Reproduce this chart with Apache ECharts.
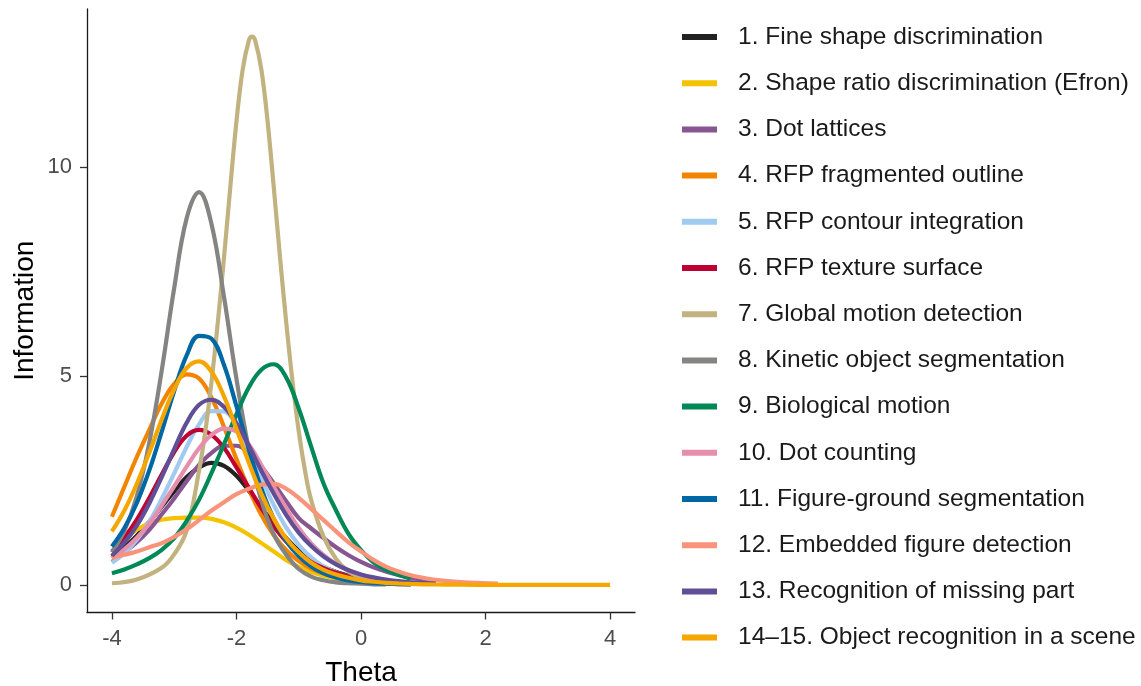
<!DOCTYPE html>
<html>
<head>
<meta charset="utf-8">
<title>Information curves</title>
<script src="https://cdn.jsdelivr.net/npm/echarts@6/dist/echarts.min.js"></script>
<style>
  html, body { margin: 0; padding: 0; background: #fff; }
  #main { width: 1141px; height: 686px; }
</style>
</head>
<body>
<div id="main"></div>
<script>
// theta grid (shared by most curves)
var theta = [-4.0, -3.8, -3.6, -3.4, -3.2, -3.0, -2.8, -2.6, -2.4, -2.2, -2.0, -1.8, -1.6, -1.4, -1.2, -1.0,
  -0.8, -0.6, -0.4, -0.2, 0.0, 0.2, 0.4, 0.6, 0.8, 1.0, 1.2, 1.6, 2.2, 2.8, 3.4, 4.0];
// denser grid for the narrow global motion peak
var thetaGM = [-4.0, -3.6, -3.2, -3.0, -2.8, -2.6, -2.5, -2.4, -2.3, -2.2, -2.1, -2.0, -1.9, -1.8, -1.75, -1.7,
  -1.6, -1.5, -1.4, -1.3, -1.2, -1.1, -1.0, -0.9, -0.8, -0.6, -0.4, -0.2, 0.0, 0.2, 0.4, 0.6, 0.8];

var names = [
  '1. Fine shape discrimination',
  '2. Shape ratio discrimination (Efron)',
  '3. Dot lattices',
  '4. RFP fragmented outline',
  '5. RFP contour integration',
  '6. RFP texture surface',
  '7. Global motion detection',
  '8. Kinetic object segmentation',
  '9. Biological motion',
  '10. Dot counting',
  '11. Figure-ground segmentation',
  '12. Embedded figure detection',
  '13. Recognition of missing part',
  '14\u201315. Object recognition in a scene'
];

var colors = ['#222222', '#F3C300', '#875692', '#F38400', '#A1CAF1', '#BE0032', '#C2B280',
  '#848482', '#008856', '#E68FAC', '#0067A5', '#F99379', '#604E97', '#F6A600'];

// information values (null = curve stops)
var fineShape = [0.68, 0.90, 1.18, 1.51, 1.87, 2.24, 2.58, 2.81, 2.92, 2.85, 2.61, 2.25, 1.85, 1.47, 1.12, 0.82,
  0.60, 0.43, 0.31, 0.22, 0.15, 0.11, 0.075, 0.05, 0.035, null, null, null, null, null, null, null];
var shapeRatio = [0.92, 1.10, 1.32, 1.47, 1.56, 1.60, 1.61, 1.61, 1.58, 1.50, 1.37, 1.20, 1.00, 0.80, 0.59, 0.43,
  0.31, 0.22, 0.15, 0.10, 0.07, 0.05, 0.03, 0.02, null, null, null, null, null, null, null, null];
var dotLattices = [0.55, 0.78, 1.02, 1.32, 1.69, 2.07, 2.48, 2.87, 3.16, 3.33, 3.33, 3.15, 2.83, 2.43, 2.00, 1.60,
  1.35, 1.12, 0.90, 0.71, 0.55, 0.42, 0.32, 0.24, 0.17, 0.12, 0.09, null, null, null, null, null];
var rfpFragmented = [1.63, 2.35, 3.06, 3.71, 4.34, 4.81, 5.04, 4.94, 4.48, 3.78, 3.01, 2.29, 1.67, 1.19, 0.83, 0.57,
  0.39, 0.27, 0.18, 0.12, 0.08, 0.05, 0.035, 0.02, 0.015, null, null, null, null, null, null, null];
var rfpContour = [0.53, 0.76, 1.08, 1.51, 2.06, 2.67, 3.30, 3.84, 4.16, 4.15, 3.81, 3.22, 2.55, 1.91, 1.37, 0.96,
  0.66, 0.44, 0.30, 0.20, 0.13, 0.09, 0.06, 0.04, 0.025, null, null, null, null, null, null, null];
var rfpTexture = [0.80, 1.13, 1.56, 2.08, 2.64, 3.18, 3.57, 3.71, 3.59, 3.28, 2.81, 2.32, 1.84, 1.40, 1.04, 0.76,
  0.55, 0.40, 0.29, 0.20, 0.14, 0.10, 0.07, 0.05, 0.035, null, null, null, null, null, null, null];
// on thetaGM
var globalMotion = [0.04, 0.13, 0.41, 0.73, 1.30, 2.74, 3.67, 4.87, 6.27, 7.83, 9.50, 11.09, 12.33, 13.03, 13.12, 13.03,
  12.33, 11.09, 9.50, 7.83, 6.27, 4.87, 3.68, 2.74, 2.03, 1.15, 0.62, 0.32, 0.17, 0.09, 0.05, 0.03, 0.02];
var kineticObject = [0.78, 1.29, 2.12, 3.40, 5.13, 7.10, 8.77, 9.40, 8.63, 6.89, 4.93, 3.24, 2.02, 1.21, 0.72, 0.38,
  0.20, 0.11, 0.06, 0.04, 0.03, 0.015, 0.01, null, null, null, null, null, null, null, null, null];
var bioMotion = [0.28, 0.37, 0.49, 0.64, 0.84, 1.12, 1.53, 2.04, 2.68, 3.37, 4.08, 4.73, 5.15, 5.28, 4.96, 4.22,
  3.31, 2.42, 1.78, 1.22, 0.83, 0.54, 0.36, 0.24, 0.15, null, null, null, null, null, null, null];
var dotCounting = [0.63, 0.85, 1.13, 1.47, 1.90, 2.36, 2.83, 3.27, 3.59, 3.74, 3.67, 3.36, 2.87, 2.34, 1.83, 1.36,
  0.99, 0.71, 0.50, 0.35, 0.24, 0.17, 0.12, 0.08, 0.055, 0.04, null, null, null, null, null, null];
var figureGround = [0.92, 1.36, 1.96, 2.74, 3.67, 4.64, 5.49, 5.96, 5.89, 5.26, 4.28, 3.24, 2.31, 1.58, 1.05, 0.69,
  0.44, 0.28, 0.18, 0.11, 0.07, 0.045, 0.03, 0.02, 0.01, null, null, null, null, null, null, null];
var embeddedFigure = [0.65, 0.72, 0.80, 0.90, 1.00, 1.15, 1.33, 1.55, 1.78, 1.98, 2.17, 2.30, 2.40, 2.42, 2.30, 2.08,
  1.82, 1.55, 1.28, 1.02, 0.80, 0.60, 0.44, 0.32, 0.23, 0.17, 0.12, 0.07, 0.03, null, null, null];
var missingPart = [0.70, 1.01, 1.42, 1.95, 2.58, 3.25, 3.88, 4.31, 4.43, 4.26, 3.87, 3.33, 2.73, 2.18, 1.67, 1.25,
  0.93, 0.68, 0.49, 0.35, 0.25, 0.18, 0.13, 0.09, 0.06, 0.045, 0.03, null, null, null, null, null];
var objectScene = [1.28, 1.78, 2.42, 3.16, 3.96, 4.68, 5.19, 5.35, 5.10, 4.51, 3.73, 2.92, 2.18, 1.58, 1.11, 0.78,
  0.53, 0.36, 0.25, 0.17, 0.11, 0.075, 0.05, 0.034, 0.023, 0.015, 0.01, 0.005, 0.002, 0.001, 0.0, 0.0];

var allValues = [fineShape, shapeRatio, dotLattices, rfpFragmented, rfpContour, rfpTexture, globalMotion,
  kineticObject, bioMotion, dotCounting, figureGround, embeddedFigure, missingPart, objectScene];

var xTicks = [-4, -2, 0, 2, 4];
var yTicks = [0, 5, 10];

var font = 'Liberation Sans, Arial, sans-serif';

var chart = echarts.init(document.getElementById('main'));

var series = [];
for (var k = 0; k < names.length; k++) {
  var vals = allValues[k];
  var xs = (vals === globalMotion) ? thetaGM : theta;
  series.push({
    name: names[k],
    type: 'line',
    data: xs.map(function (t, i) { return [t, vals[i]]; }),
    smooth: 0.4,
    showSymbol: false,
    connectNulls: false,
    lineStyle: { width: 4.2, color: colors[k] },
    itemStyle: { color: colors[k] },
    emphasis: { disabled: true }
  });
}

chart.setOption({
  animation: false,
  backgroundColor: '#fff',
  // fixed plot panel, don't let echarts shrink it for the labels
  grid: { left: 87, top: 9, width: 548, height: 603.5, outerBoundsMode: 'none' },
  xAxis: {
    type: 'value',
    min: -4.4,
    max: 4.4,
    name: 'Theta',
    nameLocation: 'middle',
    nameGap: 47,
    nameTextStyle: { fontFamily: font, fontSize: 28, color: '#000' },
    axisLine: { onZero: false, lineStyle: { color: '#1a1a1a', width: 1.3 } },
    axisTick: { customValues: xTicks, length: 7, lineStyle: { color: '#333', width: 1.3 } },
    axisLabel: { customValues: xTicks, margin: 15, fontFamily: font, fontSize: 22, color: '#4d4d4d' },
    splitLine: { show: false }
  },
  yAxis: {
    type: 'value',
    min: -0.66,
    max: 13.78,
    name: 'Information',
    nameLocation: 'middle',
    nameGap: 48,
    nameTextStyle: { fontFamily: font, fontSize: 28, color: '#000' },
    axisLine: { onZero: false, lineStyle: { color: '#1a1a1a', width: 1.3 } },
    axisTick: { customValues: yTicks, length: 7, lineStyle: { color: '#333', width: 1.3 } },
    axisLabel: { customValues: yTicks, margin: 15, fontFamily: font, fontSize: 22, color: '#4d4d4d' },
    splitLine: { show: false }
  },
  legend: {
    orient: 'vertical',
    left: 682,
    top: 24,
    padding: 0,
    itemWidth: 35,
    itemHeight: 6,
    itemGap: 20.2,
    icon: 'rect',
    selectedMode: false,
    data: names,
    textStyle: { fontFamily: font, fontSize: 24.5, lineHeight: 26, color: '#1a1a1a', padding: [0, 0, 0, 16] }
  },
  series: series
});
</script>
</body>
</html>
